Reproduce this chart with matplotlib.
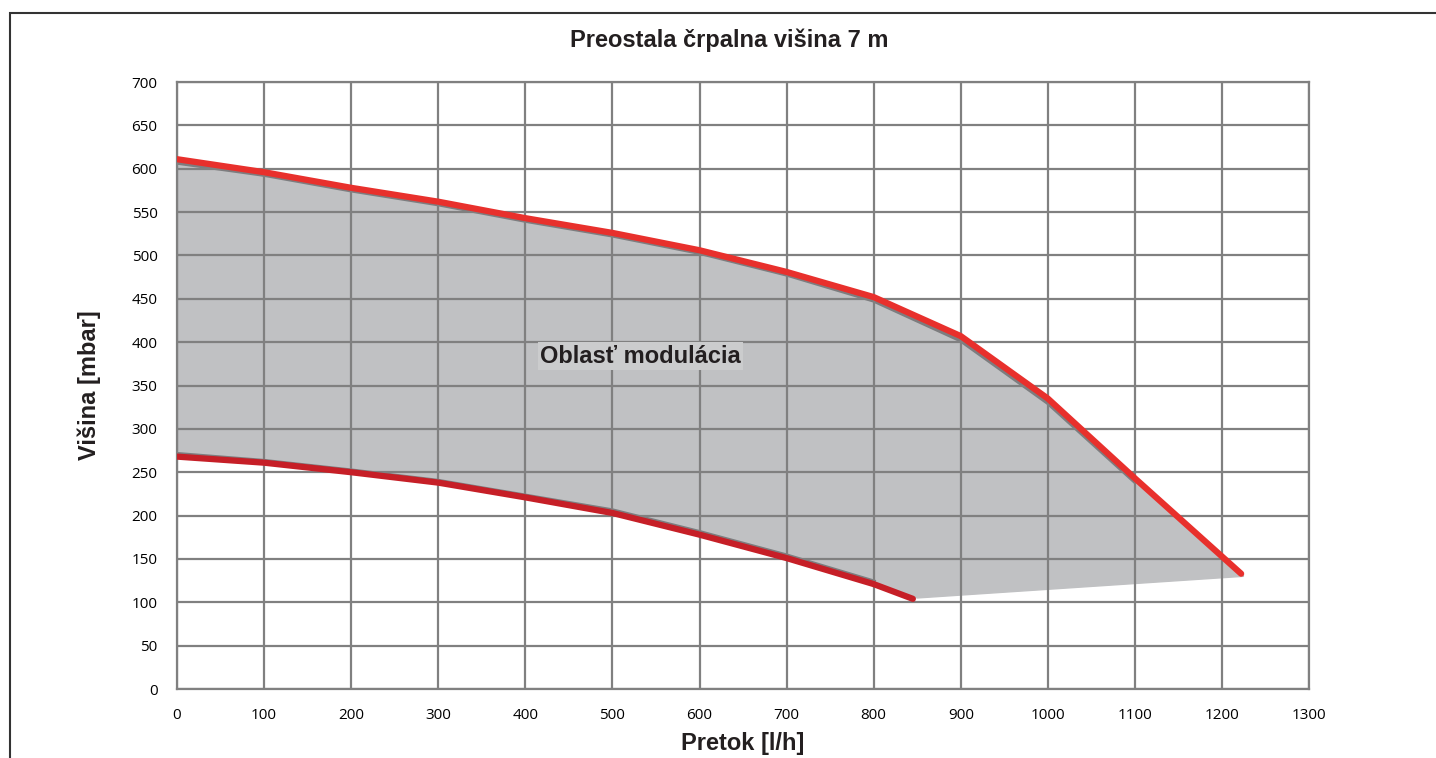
import matplotlib.pyplot as plt
from matplotlib.patches import Rectangle

# Data
flow_upper = [0, 100, 200, 300, 400, 500, 600, 700, 800, 900, 1000, 1100, 1222]
head_upper = [611, 596, 578, 562, 543, 526, 506, 481, 452, 407, 335, 243, 133]

flow_lower = [0, 100, 200, 300, 400, 500, 600, 700, 800, 845]
head_lower = [268, 261, 250, 238, 221, 203, 178, 151, 121, 104]

# modulation area (gray polygon)
area_x = [0, 100, 200, 300, 400, 500, 600, 700, 800, 900, 1000, 1100, 1225,
          850, 800, 700, 600, 500, 400, 300, 200, 100, 0]
area_y = [607, 593, 575, 559, 540, 523, 503, 478, 448, 402, 330, 239, 130,
          105, 124, 154, 181, 206, 223, 240, 252, 263, 271]

xticks = list(range(0, 1301, 100))
yticks = list(range(0, 701, 50))

fig = plt.figure(figsize=(14.36, 7.58), dpi=100)
ax = fig.add_axes([0.1233, 0.0910, 0.7883, 0.8008])

ax.fill(area_x, area_y, color="#c0c1c3", zorder=1)
ax.plot(area_x[:12], area_y[:12], color="#7d7d7f", lw=3, zorder=2)
ax.plot(area_x[14:], area_y[14:], color="#7d7d7f", lw=3, zorder=2)
ax.plot(flow_upper, head_upper, color="#e8302c", lw=4.5,
        solid_capstyle="round", zorder=4)
ax.plot(flow_lower, head_lower, color="#c61f27", lw=4.5,
        solid_capstyle="round", zorder=4)

ax.text(532, 384, "Oblasť modulácia", fontsize=17, fontweight="bold",
        family="Liberation Sans", color="#231f20", ha="center", va="center",
        bbox=dict(boxstyle="square,pad=0.1", fc="#cbcccd", ec="none"), zorder=5)

ax.set_xlim(0, 1300)
ax.set_ylim(0, 700)
ax.set_xticks(xticks)
ax.set_yticks(yticks)
ax.tick_params(length=0, labelsize=11, pad=14)
for lab in ax.get_xticklabels() + ax.get_yticklabels():
    lab.set_family("Open Sans")
ax.grid(True, color="#808080", lw=1.6, zorder=3)
ax.set_axisbelow(False)
for s in ax.spines.values():
    s.set_color("#808080")
    s.set_linewidth(1.6)
    s.set_zorder(3)

ax.set_xlabel("Pretok [l/h]", fontsize=17, fontweight="bold",
              family="Liberation Sans", color="#231f20", labelpad=6)
ax.set_ylabel("Višina [mbar]", fontsize=17, fontweight="bold",
              family="Liberation Sans", color="#231f20", labelpad=22)
fig.text(0.508, 0.947, "Preostala črpalna višina 7 m", fontsize=17,
         fontweight="bold", family="Liberation Sans", color="#231f20",
         ha="center", va="center")

# frame around the whole picture
fig.patches.append(Rectangle((10 / 1436, -0.05), 1.2, 0.05 + 745 / 758,
                             transform=fig.transFigure, fill=False,
                             ec="#333333", lw=1.5))

fig.savefig("out.png", dpi=100)
